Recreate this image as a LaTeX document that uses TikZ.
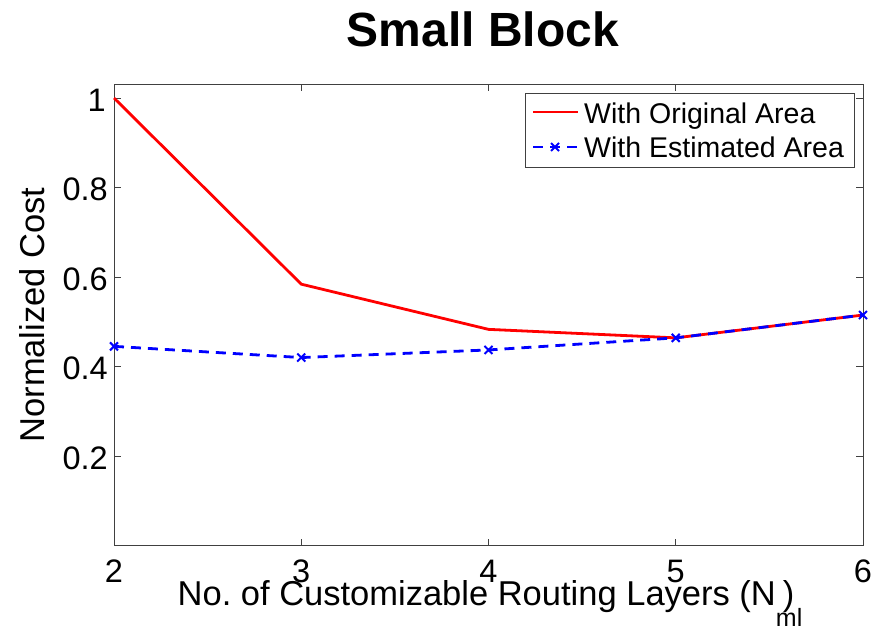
\documentclass[tikz,border=0pt]{standalone}
\usepackage{fontspec}
\setmainfont{Liberation Sans}

\tikzset{
  axisline/.style={draw=black!75, line width=0.9pt},
  ticklbl/.style={inner sep=0pt, font=\fontsize{32.5}{32.5}\selectfont},
  axislbl/.style={inner sep=0pt, font=\fontsize{34.5}{34.5}\selectfont},
  titlelbl/.style={inner sep=0pt, font=\fontsize{48}{48}\selectfont\bfseries},
  leglbl/.style={inner sep=0pt, font=\fontsize{28.5}{28.5}\selectfont},
  origline/.style={red, line width=2.8pt, line join=round},
  estline/.style={blue, line width=2.8pt, line join=round, dash pattern=on 10pt off 7pt},
  estmark/.style={blue, line width=2pt},
}

\begin{document}
\frenchspacing
\begin{tikzpicture}[x=1pt,y=-1pt]
    \useasboundingbox (0,0) rectangle (877,626);

    % title
    \node[titlelbl, anchor=base] (title) at (483,47) {Small Block};

    \begin{scope}[shift={(-260.5,545.5)}, x=187.25pt, y=447.5pt]
      % draw axes box
      \draw[axisline] (2,0) rectangle (6,1.031);

      % draw ticks
      \foreach \x in {3,4,5} {
        \draw[axisline] (\x,0) -- ++(0,7pt);
        \draw[axisline] (\x,1.031) -- ++(0,-7pt);
      }
      \foreach \y in {0.2,0.4,0.6,0.8,1} {
        \draw[axisline] (2,\y) -- ++(7pt,0);
        \draw[axisline] (6,\y) -- ++(-7pt,0);
      }

      % tick labels
      \foreach \x in {2,...,6}
        \node[ticklbl] (xt\x) at (\x,0) [yshift=-25.5pt] {\x};
      \foreach \y/\t in {0.2/a,0.4/b,0.6/c,0.8/d}
        \node[ticklbl, anchor=east] (yt\t) at (2,\y) [xshift=-6pt, yshift=-2pt] {\y};
      \node[ticklbl, anchor=east] (yte) at (2,1) [xshift=-8pt, yshift=-2pt] {1};

      % data points
      \foreach \n/\v in {2/1.0, 3/0.584, 4/0.483, 5/0.464, 6/0.515}
        \coordinate (o\n) at (\n,\v);
      \foreach \n/\v in {2/0.445, 3/0.420, 4/0.437, 5/0.464, 6/0.515}
        \coordinate (e\n) at (\n,\v);

      % draw curves
      \draw[origline] (o2) -- (o3) -- (o4) -- (o5) -- (o6);
      \draw[estline] (e2) -- (e3) -- (e4) -- (e5) -- (e6);
      \foreach \n in {2,...,6}
        \draw[estmark] (e\n) ++(-4pt,-4pt) -- ++(8pt,8pt) (e\n) ++(-4pt,4pt) -- ++(8pt,-8pt);
    \end{scope}

    % axis labels
    \node[axislbl, rotate=90] (ylbl) at (32,315) {Normalized Cost};
    \node[axislbl, anchor=base] (xlbl) at (486,605)
      {No. of Customizable Routing Layers (N\rlap{\raisebox{-0.62em}{\fontsize{25}{25}\selectfont ml}}\hspace{0.2em})};

    % legend
    \draw[axisline, fill=white] (525,93) rectangle (854,167);
    \coordinate (la) at (533,112);
    \coordinate (lb) at (578,112);
    \coordinate (lc) at (533,147);
    \coordinate (ld) at (578,147);
    \draw[origline] (la) -- (lb);
    \draw[estline] (lc) -- (ld);
    \draw[estmark] (555,147) ++(-4pt,-4pt) -- ++(8pt,8pt) (555,147) ++(-4pt,4pt) -- ++(8pt,-8pt);
    \node[leglbl, anchor=base west] (lorig) at (584,123) {With Original Area};
    \node[leglbl, anchor=base west] (lest) at (584,157) {With Estimated Area};
\end{tikzpicture}
\end{document}
